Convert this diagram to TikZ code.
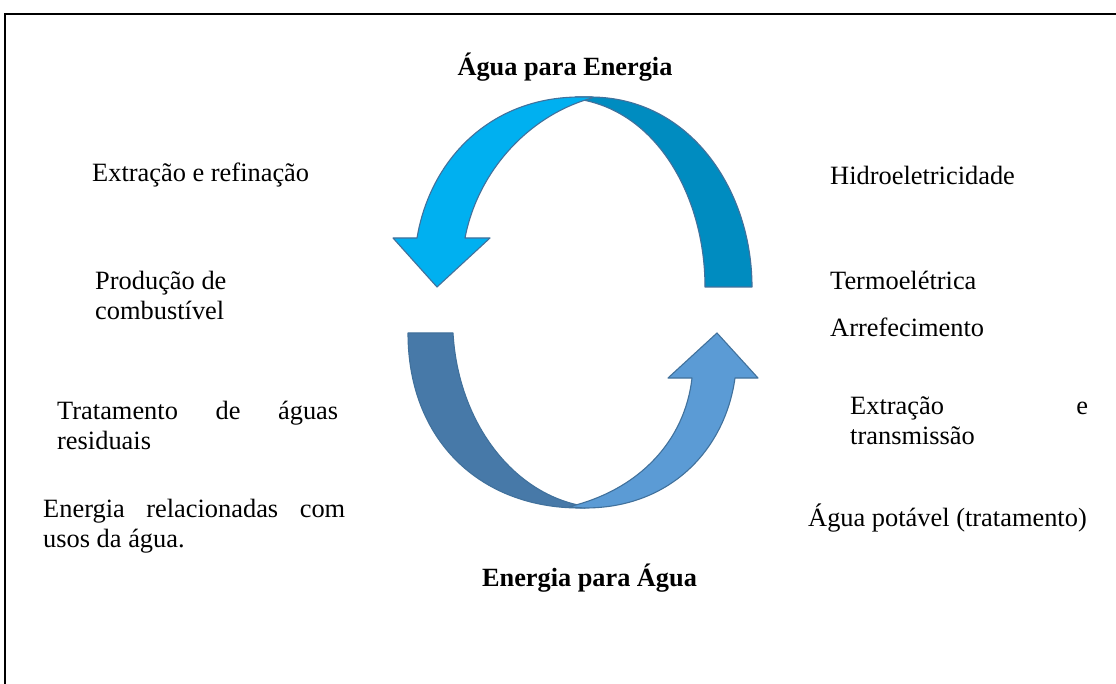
\documentclass[tikz,border=0pt]{standalone}
\usepackage{fontspec}
\setmainfont{Liberation Serif}
\begin{document}
\begin{tikzpicture}[x=1pt,y=-1pt,
  txt/.style={anchor=base west,inner sep=0pt,align=left,font=\fontsize{26.4}{30}\selectfont},
  ttl/.style={anchor=base,inner sep=0pt,font=\fontsize{26.3}{30}\selectfont\bfseries},
  band/.style={draw=outl,line width=1.1pt,line join=round}]
\definecolor{outl}{RGB}{65,113,156}
\definecolor{cyanA}{RGB}{0,176,240}
\definecolor{tealA}{RGB}{0,140,192}
\definecolor{steelA}{RGB}{71,121,168}
\definecolor{skyA}{RGB}{91,155,213}
\useasboundingbox (0,0) rectangle (1116,684);
\fill[white] (0,0) rectangle (1116,684);
% frame
\draw[line width=2pt] (5,690) -- (5,14) -- (1120,14);
% top arrows
\path[band,fill=tealA] (575,97) -- (590,97) .. controls (690,97) and (752,190) .. (752,287)
  -- (705,287) .. controls (705,200) and (660,115) .. (583,100) -- cycle;
\path[band,fill=cyanA] (592,97) -- (580,97) .. controls (490,97) and (430,160) .. (417,238)
  -- (393,238) -- (437,287) -- (490,238) -- (465,238)
  .. controls (478,170) and (530,115) .. (592,98) -- cycle;
% bottom arrows
\path[band,fill=steelA] (408,333) -- (453,333) .. controls (458,420) and (510,490) .. (578,505)
  -- (585,508) -- (580,508) .. controls (480,508) and (408,440) .. (408,333) -- cycle;
\path[band,fill=skyA] (568,507) .. controls (640,490) and (685,440) .. (692,378)
  -- (668,378) -- (717,333) -- (758,378) -- (735,378)
  .. controls (725,450) and (670,508) .. (585,508) -- cycle;
% titles
\node[ttl] (t1) at (565,76) {Água para Energia};
\node[ttl] (t2) at (589.5,586) {Energia para Água};
% left texts
\node[txt] (l1) at (92,182) {Extração e refinação};
\node[txt] (l2) at (95,320) {Produção de\\combustível};
\node[txt] (l3) at (57,449) {\makebox[281pt][s]{Tratamento de águas}\\residuais};
\node[txt] (l4) at (43,547) {\makebox[302pt][s]{Energia relacionadas com}\\usos da água.};
% right texts
\node[txt] (r1) at (830,185) {Hidroeletricidade};
\node[txt] (r2) at (830,290) {Termoelétrica};
\node[txt] (r3) at (830,337) {Arrefecimento};
\node[txt] (r4) at (850,444) {\makebox[238pt][s]{Extração e}\\transmissão};
\node[txt] (r5) at (808,526) {Água potável (tratamento)};
\end{tikzpicture}
\end{document}
